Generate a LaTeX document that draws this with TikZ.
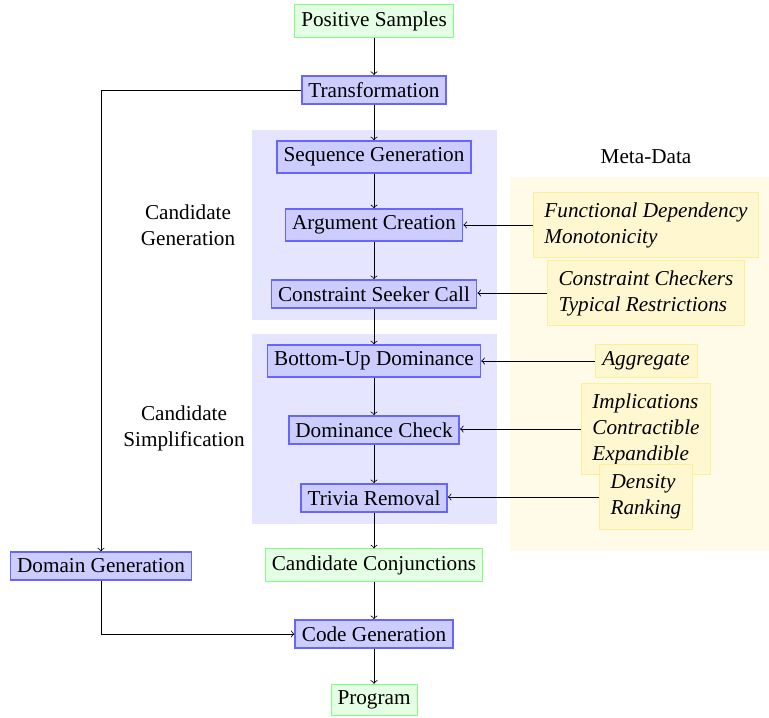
\documentclass[tikz,border=0pt]{standalone}
\usepackage{fontspec}
\setmainfont{Liberation Serif}
\definecolor{metabg}{RGB}{255,251,232}
\definecolor{metafill}{RGB}{255,247,208}
\definecolor{metadraw}{RGB}{255,238,150}
\begin{document}
\begin{tikzpicture}[x=0.5pt,y=-0.5pt,
  font=\fontsize{10.6}{13}\selectfont,
  bluebox/.style={draw=blue!60, fill=blue!20, thick, inner sep=3.3pt},
  greenbox/.style={draw=green!50, fill=green!10, inner sep=3.3pt},
  metabox/.style={draw=metadraw, fill=metafill, align=left, inner xsep=5.5pt, inner ysep=5pt,
    font=\fontsize{10.6}{13}\selectfont\itshape},
  metasmall/.style={metabox, inner xsep=3.6pt, inner ysep=3.5pt},
  lbl/.style={align=center},
  arr/.style={->}]
\useasboundingbox (0,0) rectangle (769,717);
% background regions
\fill[blue!10] (252,130) rectangle (497,320);
\fill[blue!10] (252,334) rectangle (497,524);
\fill[metabg] (510,177) rectangle (769,551);
% main flow
\node[greenbox] (ps) at (374,21) {Positive Samples};
\node[bluebox] (tr) at (374,90) {Transformation};
\node[bluebox] (sg) at (374,157) {Sequence Generation};
\node[bluebox] (ac) at (374,225) {Argument Creation};
\node[bluebox] (cs) at (374,294) {Constraint Seeker Call};
\node[bluebox] (bu) at (374,361) {Bottom-Up Dominance};
\node[bluebox] (dc) at (374,430) {Dominance Check};
\node[bluebox] (trv) at (374,498) {Trivia Removal};
\node[greenbox] (cc) at (374,565) {Candidate Conjunctions};
\node[bluebox] (cg) at (374,634) {Code Generation};
\node[greenbox] (pg) at (374,700) {Program};
\node[bluebox] (dg) at (101,566) {Domain Generation};
% labels
\node[lbl] (lg) at (188,225) {Candidate\\Generation};
\node[lbl] (ls) at (184,428) {Candidate\\Simplification};
\node (md) at (646,157) {Meta-Data};
% meta data boxes
\node[metabox] (m1) at (646,225) {Functional Dependency\\Monotonicity};
\node[metabox] (m2) at (646,293) {Constraint Checkers\\Typical Restrictions};
\node[metasmall] (m3) at (646,361) {Aggregate};
\node[metabox] (m4) at (646,429) {Implications\\Contractible\\Expandible};
\node[metabox] (m5) at (646,497) {Density\\Ranking};
% connectors
\draw[arr] (ps) -- (tr);
\draw[arr] (tr) -- (sg);
\draw[arr] (sg) -- (ac);
\draw[arr] (ac) -- (cs);
\draw[arr] (cs) -- (bu);
\draw[arr] (bu) -- (dc);
\draw[arr] (dc) -- (trv);
\draw[arr] (trv) -- (cc);
\draw[arr] (cc) -- (cg);
\draw[arr] (cg) -- (pg);
\draw[arr] (tr.west) -| (dg.north);
\draw[arr] (dg.south) |- (cg.west);
\draw[arr] (m1.west) -- (ac.east |- m1.west);
\draw[arr] (m2.west) -- (cs.east |- m2.west);
\draw[arr] (m3.west) -- (bu.east |- m3.west);
\draw[arr] (m4.west) -- (dc.east |- m4.west);
\draw[arr] (m5.west) -- (trv.east |- m5.west);
\end{tikzpicture}
\end{document}
